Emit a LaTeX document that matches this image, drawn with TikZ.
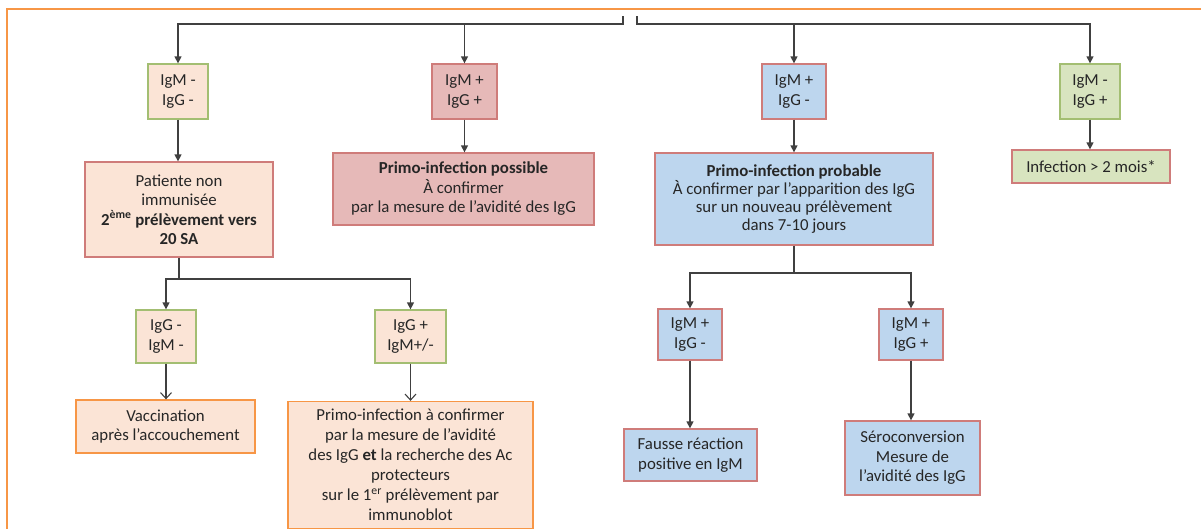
\documentclass[tikz,border=0pt]{standalone}
\usepackage{fontspec}
\setmainfont{Carlito}
\usetikzlibrary{arrows.meta}
\definecolor{peach}{HTML}{FBE4D6}
\definecolor{gborder}{HTML}{A3BE72}
\definecolor{rfill}{HTML}{E6B9B8}
\definecolor{rborder}{HTML}{CF7C7A}
\definecolor{bfill}{HTML}{BDD6EE}
\definecolor{gfill}{HTML}{D8E4BF}
\definecolor{oborder}{HTML}{F79646}
\definecolor{txt}{HTML}{262626}
\definecolor{conn}{HTML}{404040}
\tikzset{
  box/.style={draw, line width=1.3pt, align=center, inner sep=0pt, text=txt,
    font=\fontsize{16.8}{19.5}\selectfont},
  arr/.style={draw=conn, line width=1.3pt, -{Triangle[length=7pt,width=7pt]}},
  oarr/.style={draw=conn, line width=1.3pt, -{Straight Barb[length=6pt,width=11pt,line width=1.1pt]}},
  ln/.style={draw=conn, line width=1.3pt},
}
\begin{document}
\begin{tikzpicture}[x=1pt,y=-1pt]
\useasboundingbox (0,0) rectangle (1201,528);
\clip (0,0) rectangle (1201,528);
\draw[oborder, line width=2pt] (7,532) -- (7,9) -- (1205,9);

% level 1
\node[box, fill=peach, draw=gborder, minimum width=60, minimum height=55] (b1) at (178,91.5) {IgM -\\IgG -};
\node[box, fill=rfill, draw=rborder, minimum width=65, minimum height=55] (b2) at (464.5,91.5) {IgM +\\IgG +};
\node[box, fill=bfill, draw=rborder, minimum width=64, minimum height=55] (b3) at (794,91.5) {IgM +\\IgG -};
\node[box, fill=gfill, draw=gborder, minimum width=60, minimum height=55] (b4) at (1090,91.5) {IgM -\\IgG +};

% level 2
\node[box, fill=peach, draw=rborder, minimum width=188, minimum height=95] (b5) at (179,209.5) {Patiente non\\immunisée\\\textbf{2\textsuperscript{ème} prélèvement vers}\\\textbf{20 SA}};
\node[box, fill=rfill, draw=rborder, minimum width=261, minimum height=72] (b6) at (463.5,189) {\textbf{Primo-infection possible}\\À confirmer\\par la mesure de l’avidité des IgG};
\node[box, fill=bfill, draw=rborder, minimum width=278, minimum height=92, font=\fontsize{16.8}{17.8}\selectfont] (b7) at (794,199) {\textbf{Primo-infection probable}\\À confirmer par l’apparition des IgG\\sur un nouveau prélèvement\\dans 7-10 jours};
\node[box, fill=gfill, draw=rborder, minimum width=158, minimum height=33] (b8) at (1091,166.5) {Infection > 2 mois*};

% level 3
\node[box, fill=peach, draw=gborder, minimum width=60, minimum height=53] (b9) at (166,336.5) {IgG -\\IgM -};
\node[box, fill=peach, draw=gborder, minimum width=71, minimum height=53] (b10) at (410.5,336.5) {IgG +\\IgM+/-};
\node[box, fill=bfill, draw=rborder, minimum width=64, minimum height=51] (b13) at (690,334.5) {IgM +\\IgG -};
\node[box, fill=bfill, draw=rborder, minimum width=64, minimum height=51] (b14) at (911,334.5) {IgM +\\IgG +};

% level 4
\node[box, fill=peach, draw=oborder, minimum width=179, minimum height=53] (b11) at (165.5,426.5) {Vaccination\\après l’accouchement};
\node[box, fill=peach, draw=oborder, minimum width=245, minimum height=127, font=\fontsize{16.8}{20}\selectfont] (b12) at (410.5,465) {Primo-infection à confirmer\\par la mesure de l’avidité\\des IgG \textbf{et} la recherche des Ac\\protecteurs\\sur le 1\textsuperscript{er} prélèvement par\\immunoblot};
\node[box, fill=bfill, draw=rborder, minimum width=133, minimum height=52] (b15) at (690.5,455) {Fausse réaction\\positive en IgM};
\node[box, fill=bfill, draw=rborder, minimum width=135, minimum height=74] (b16) at (912.5,458) {Séroconversion\\Mesure de\\l’avidité des IgG};

% junction coordinates
\coordinate (s1) at (623,16);
\coordinate (s2) at (637,16);
\coordinate (top) at (0,24);
\coordinate (j5) at (0,279);
\coordinate (j7) at (0,273);

% top connectors
\draw[arr] (s1) |- (b1.north |- top) -- (b1.north);
\draw[arr] (b2.north |- top) -- (b2.north);
\draw[ln, line width=2.2pt] (b2.north |- top) -- ++(100,0);
\draw[arr] (s2) |- (b4.north |- top) -- (b4.north);
\draw[arr] (b3.north |- top) -- (b3.north);

% level 1 -> 2
\draw[arr] (b1.south) -- (b1.south |- b5.north);
\draw[arr] (b2.south) -- (b2.south |- b6.north);
\draw[arr] (b3.south) -- (b3.south |- b7.north);
\draw[arr] (b4.south) -- (b4.south |- b8.north);

% level 2 -> 3
\draw[arr] (b5.south) -- (b5.south |- j5) -| (b9.north);
\draw[arr] (b5.south |- j5) -| (b10.north);
\draw[arr] (b7.south) -- (b7.south |- j7) -| (b13.north);
\draw[arr] (b7.south |- j7) -| (b14.north);

% level 3 -> 4
\draw[oarr] (b9.south) -- (b9.south |- b11.north);
\draw[oarr] (b10.south) -- (b10.south |- b12.north);
\draw[arr] (b13.south) -- (b13.south |- b15.north);
\draw[arr] (b14.south) -- (b14.south |- b16.north);
\end{tikzpicture}
\end{document}
